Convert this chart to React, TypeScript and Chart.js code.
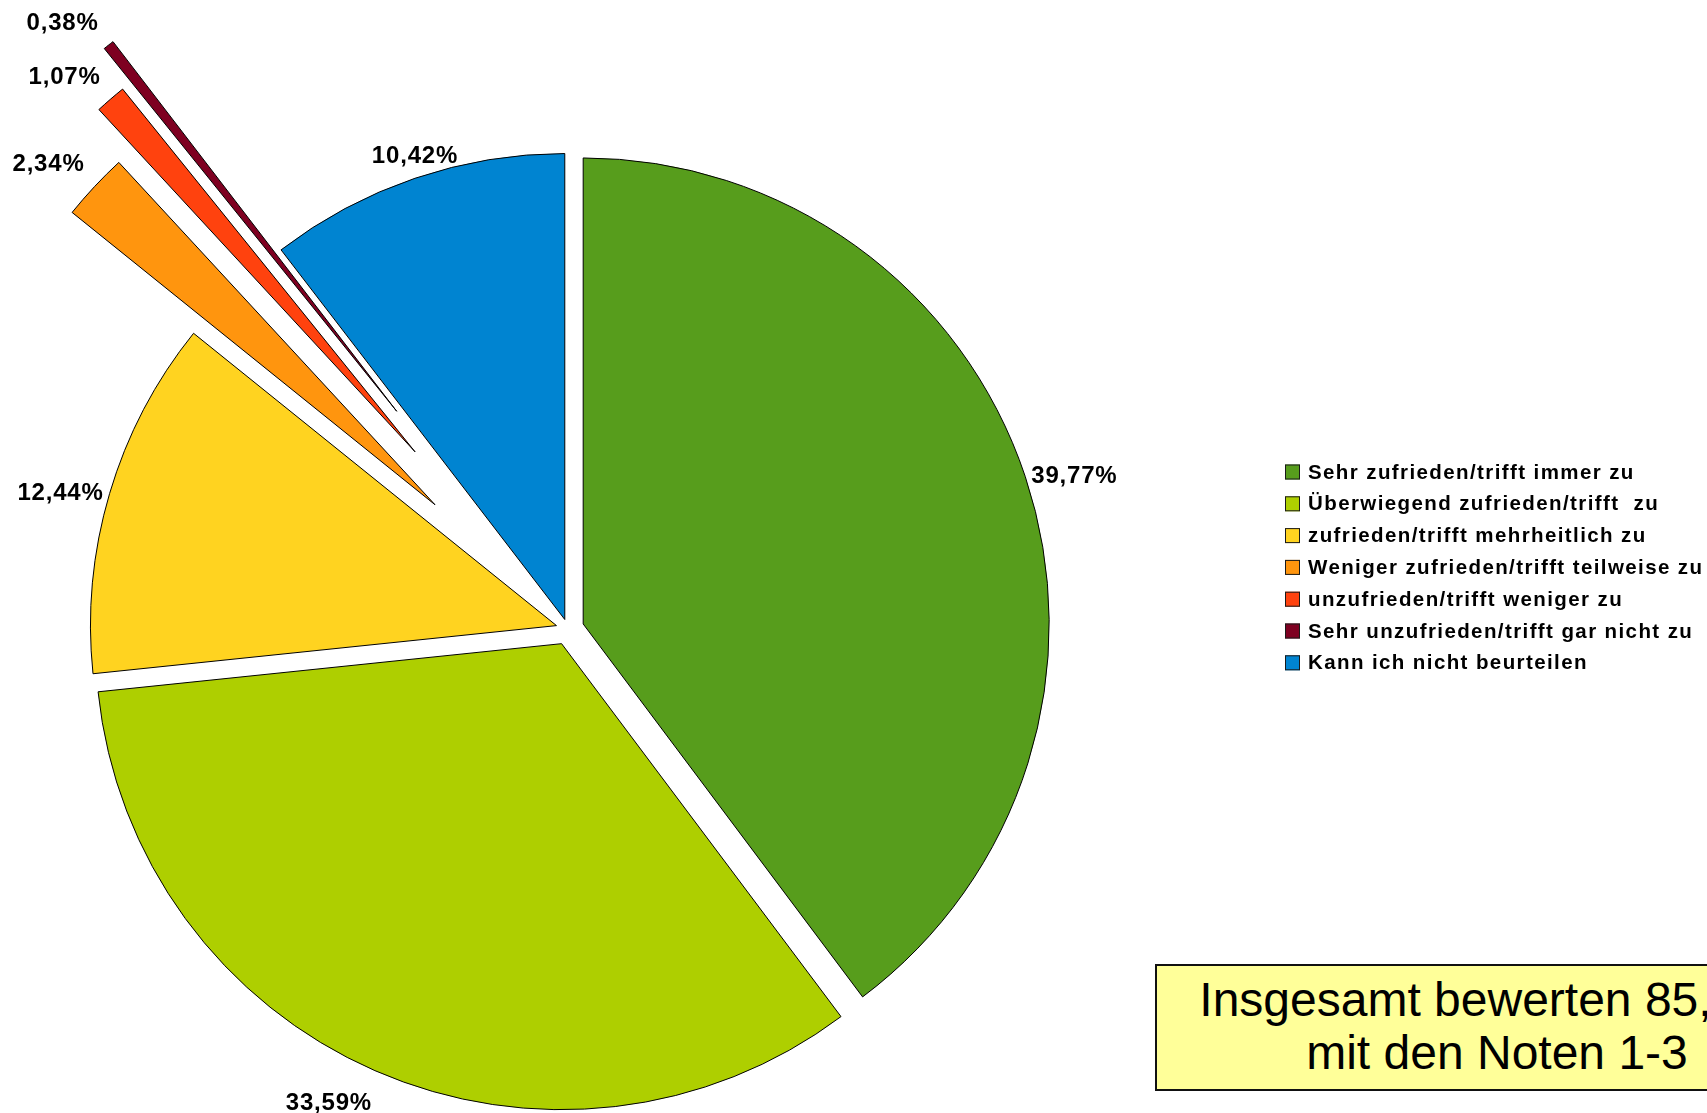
import React, { useEffect, useRef } from "react";
import { Chart, registerables } from "chart.js";

Chart.register(...registerables);

const categories = [
  "Sehr zufrieden/trifft immer zu",
  "Überwiegend zufrieden/trifft  zu",
  "zufrieden/trifft mehrheitlich zu",
  "Weniger zufrieden/trifft teilweise zu",
  "unzufrieden/trifft weniger zu",
  "Sehr unzufrieden/trifft gar nicht zu",
  "Kann ich nicht beurteilen",
];
const values = [39.77, 33.59, 12.44, 2.34, 1.07, 0.38, 10.42];
const valueLabels = ["39,77%", "33,59%", "12,44%", "2,34%", "1,07%", "0,38%", "10,42%"];
const summaryLines = ["Insgesamt bewerten 85,80%", "mit den Noten 1-3"];

const colors = ["#579D1C", "#AECF00", "#FFD320", "#FF950E", "#FF420E", "#7E0021", "#0084D1"];
const explodePx = [16, 16, 12, 182, 234, 277, 10];
const RADIUS = 466;

const FONT = '"Liberation Sans", Arial, sans-serif';

function setSpacing(ctx: any, v: string) {
  if ("letterSpacing" in ctx) ctx.letterSpacing = v;
}

// Exploded slices: move each arc's centre along its bisector (pure translation, like the original)
const explodePlugin = {
  id: "explodeSlices",
  beforeDatasetsDraw(chart: any) {
    const area = chart.chartArea;
    const cx = (area.left + area.right) / 2;
    const cy = (area.top + area.bottom) / 2;
    const meta = chart.getDatasetMeta(0);
    meta.data.forEach((el: any, i: number) => {
      const mid = (el.startAngle + el.endAngle) / 2;
      el.x = cx + Math.cos(mid) * explodePx[i];
      el.y = cy + Math.sin(mid) * explodePx[i];
    });
  },
};

const labelsPlugin = {
  id: "sliceLabels",
  afterDatasetsDraw(chart: any) {
    const ctx = chart.ctx;
    const meta = chart.getDatasetMeta(0);
    ctx.save();
    ctx.fillStyle = "#000";
    ctx.font = `bold 24px ${FONT}`;
    setSpacing(ctx, "0.8px");
    const gapH = 6;
    const gap = 10;
    const lim = Math.sin(Math.PI / 8);
    meta.data.forEach((el: any, i: number) => {
      const mid = (el.startAngle + el.endAngle) / 2;
      const dx = Math.cos(mid);
      const dy = Math.sin(mid);
      const r = el.outerRadius;
      let px = el.x + dx * r;
      let py = el.y + dy * r;
      let align: CanvasTextAlign = "center";
      let base: CanvasTextBaseline = "middle";
      if (Math.abs(dy) < lim) {
        align = dx > 0 ? "left" : "right";
        px += dx > 0 ? gapH : -gapH;
      } else if (Math.abs(dx) < lim) {
        base = dy > 0 ? "top" : "bottom";
        py += dy > 0 ? gap : -gap;
      } else {
        align = dx > 0 ? "left" : "right";
        base = dy > 0 ? "top" : "bottom";
        const hx = dy > 0 ? 3 : gap;
        px += dx > 0 ? hx : -hx;
        py += dy > 0 ? gap + 11 : -gap;
      }
      ctx.textAlign = align;
      ctx.textBaseline = base;
      ctx.fillText(valueLabels[i], px, py);
    });
    ctx.restore();
  },
};

const legendPlugin = {
  id: "sideLegend",
  afterDraw(chart: any) {
    const ctx = chart.ctx;
    ctx.save();
    ctx.font = `bold 20.5px ${FONT}`;
    setSpacing(ctx, "1.4px");
    ctx.textAlign = "left";
    ctx.textBaseline = "middle";
    const x0 = 1285;
    const y0 = 472;
    const step = 31.8;
    categories.forEach((name, i) => {
      const y = y0 + i * step;
      ctx.fillStyle = colors[i];
      ctx.fillRect(x0, y - 7.5, 15, 15);
      ctx.strokeStyle = "#1a1a1a";
      ctx.lineWidth = 1;
      ctx.strokeRect(x0 + 0.5, y - 7, 14, 14);
      ctx.fillStyle = "#000";
      ctx.fillText(name, 1308, y + 1);
    });
    ctx.restore();
  },
};

export default function App() {
  const canvasRef = useRef<HTMLCanvasElement | null>(null);

  useEffect(() => {
    if (!canvasRef.current) return;
    const chart = new Chart(canvasRef.current, {
      type: "pie",
      data: {
        labels: categories,
        datasets: [
          {
            data: values,
            backgroundColor: colors,
            borderColor: "#000000",
            borderWidth: 1,
            offset: 0,
            hoverOffset: 0,
            clip: false,
          } as any,
        ],
      },
      options: {
        responsive: true,
        maintainAspectRatio: false,
        animation: false,
        radius: RADIUS,
        layout: { padding: { left: 0, right: 571, top: 145, bottom: 0 } },
        plugins: {
          legend: { display: false },
          tooltip: { enabled: false },
          title: { display: false },
        },
        events: [],
      } as any,
      plugins: [explodePlugin, labelsPlugin, legendPlugin],
    });
    return () => chart.destroy();
  }, []);

  return (
    <div
      style={{
        position: "fixed",
        left: 0,
        top: 0,
        width: 1707,
        height: 1113,
        overflow: "hidden",
        background: "#ffffff",
      }}
    >
      <canvas ref={canvasRef} style={{ position: "absolute", left: 0, top: 0, width: 1707, height: 1113 }} />
      <div
        style={{
          position: "absolute",
          left: 1155,
          top: 964,
          width: 684,
          height: 127,
          boxSizing: "border-box",
          border: "2px solid #111",
          background: "#FFFF99",
          fontFamily: FONT,
          fontSize: 48,
          lineHeight: "53px",
          textAlign: "center",
          paddingTop: 7,
          color: "#000",
          whiteSpace: "nowrap",
        }}
      >
        <div style={{ marginLeft: 13 }}>{summaryLines[0]}</div>
        <div>{summaryLines[1]}</div>
      </div>
    </div>
  );
}
